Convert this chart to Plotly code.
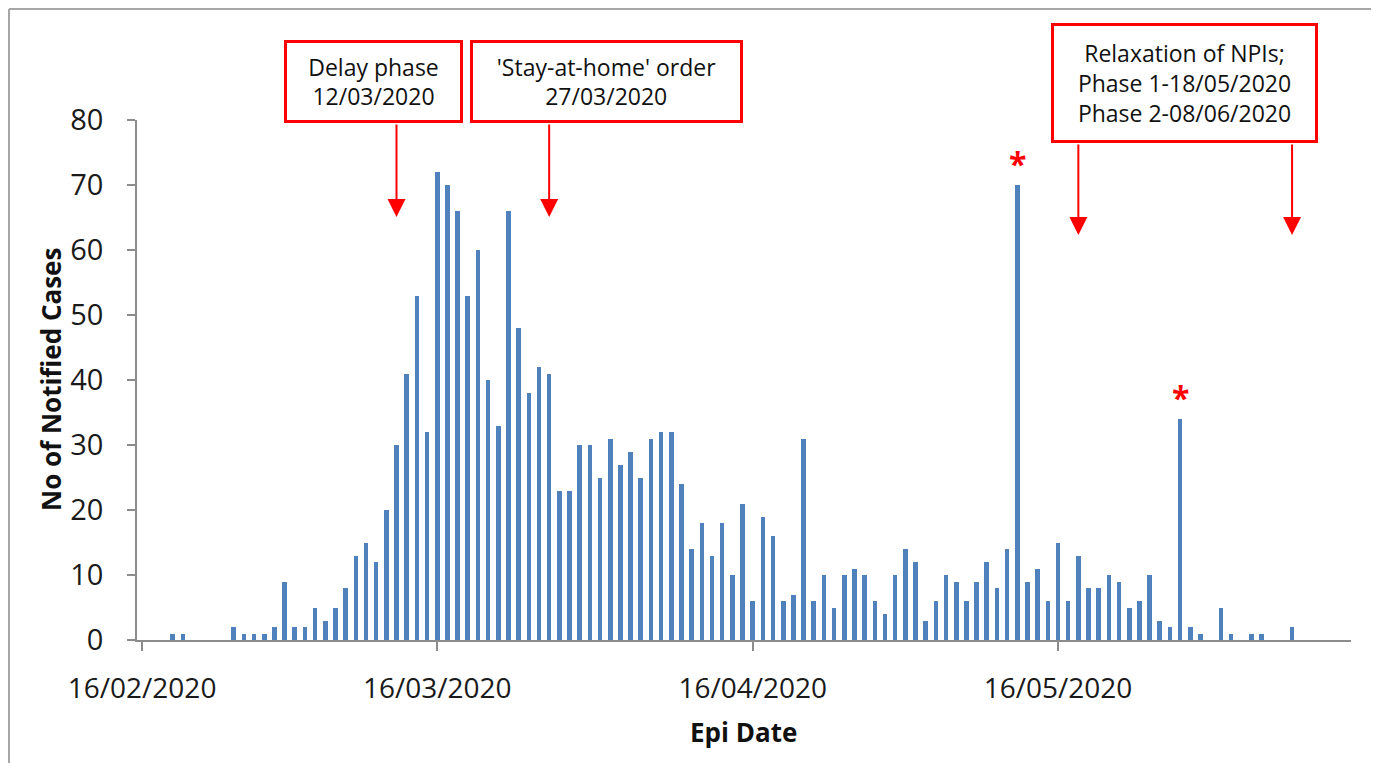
import pandas as pd
import plotly.graph_objects as go

# ---------------- data ----------------
start_date = "2020-02-19"
cases = [1, 1, 0, 0, 0, 0, 2, 1, 1, 1, 2, 9, 2, 2, 5, 3, 5, 8, 13, 15,
         12, 20, 30, 41, 53, 32, 72, 70, 66, 53, 60, 40, 33, 66, 48, 38, 42, 41, 23, 23,
         30, 30, 25, 31, 27, 29, 25, 31, 32, 32, 24, 14, 18, 13, 18, 10, 21, 6, 19, 16,
         6, 7, 31, 6, 10, 5, 10, 11, 10, 6, 4, 10, 14, 12, 3, 6, 10, 9, 6, 9,
         12, 8, 14, 70, 9, 11, 6, 15, 6, 13, 8, 8, 10, 9, 5, 6, 10, 3, 2, 34,
         2, 1, 0, 5, 1, 0, 1, 1, 0, 0, 2]
dates = pd.date_range(start_date, periods=len(cases), freq="D")

tick_dates = ["2020-02-16", "2020-03-16", "2020-04-16", "2020-05-16"]
tick_labels = ["16/02/2020", "16/03/2020", "16/04/2020", "16/05/2020"]

event_dates = ["2020-03-12", "2020-03-27", "2020-05-18", "2020-06-08"]
box_texts = ["Delay phase<br>12/03/2020",
             "'Stay-at-home' order<br>27/03/2020",
             "Relaxation of NPIs;<br>Phase 1-18/05/2020<br>Phase 2-08/06/2020"]
starred_dates = ["2020-05-12", "2020-05-28"]

# ---------------- figure ----------------
OFF = 8  # page body margin
W, H = 1379 - OFF, 763 - OFF
L, R, T, B = 137 - OFF, 28, 120 - OFF, 123
pw, ph = W - L - R, H - T - B


def px_x(x):  # screen px -> paper
    return (x - OFF - L) / pw


def px_y(y):
    return (H - B - (y - OFF)) / ph


FONT = "Open Sans"
BLUE = "#4F81BD"
RED = "#FF0000"
AXIS = "#8c8c8c"

fig = go.Figure()
fig.add_trace(go.Bar(
    x=dates, y=cases,
    marker=dict(color=BLUE, line=dict(width=0)),
    width=0.45 * 86400000,
    hoverinfo="x+y",
))

fig.update_layout(
    width=W, height=H,
    margin=dict(l=L, r=R, t=T, b=B, autoexpand=False),
    paper_bgcolor="white", plot_bgcolor="white",
    showlegend=False,
    bargap=0,
    font=dict(family=FONT, color="#222222"),
)

fig.update_xaxes(
    type="date", automargin=False,
    range=["2020-02-15 12:00", "2020-06-13 19:00"],
    tickmode="array", tickvals=tick_dates, ticktext=tick_labels,
    ticks="outside", ticklen=9, tickwidth=1.5, tickcolor=AXIS,
    showline=True, linecolor=AXIS, linewidth=1.5,
    showgrid=False, zeroline=False,
    tickfont=dict(size=28, family=FONT, color="#1a1a1a"),
    ticklabelstandoff=14,
)
fig.update_yaxes(
    range=[0, 80], dtick=10, tick0=0, automargin=False,
    ticks="outside", ticklen=8, tickwidth=1.5, tickcolor=AXIS,
    showline=True, linecolor=AXIS, linewidth=1.5,
    showgrid=False, zeroline=False,
    tickfont=dict(size=29, family=FONT, color="#1a1a1a"),
    ticklabelstandoff=18,
)

annotations = []
# axis titles
annotations.append(dict(
    text="<b>No of Notified Cases</b>", xref="paper", yref="paper",
    x=px_x(51), y=px_y(380), textangle=-90, showarrow=False,
    font=dict(size=26, family=FONT, color="#111111"),
    xanchor="center", yanchor="middle"))
annotations.append(dict(
    text="<b>Epi Date</b>", xref="paper", yref="paper",
    x=px_x(743), y=px_y(732), showarrow=False,
    font=dict(size=26, family=FONT, color="#111111"),
    xanchor="center", yanchor="middle"))

# text boxes
boxes = [  # (center x px, top y px, inner width, inner height)
    (373.5, 40, 173, 77),
    (606.5, 40, 267, 77),
    (1184.5, 23, 261, 114),
]
for (cx, top, bw, bh), txt in zip(boxes, box_texts):
    annotations.append(dict(
        text=txt, xref="paper", yref="paper",
        x=px_x(cx), y=px_y(top), xanchor="center", yanchor="top",
        width=bw, height=bh, align="center", valign="middle",
        showarrow=False, bordercolor=RED, borderwidth=3, borderpad=0,
        bgcolor="white",
        font=dict(size=23, family=FONT, color="#111111")))

# arrows
arrow_specs = [(217, 123), (217, 123), (235, 143), (235, 143)]  # tip y px, tail y px
for d, (tip, tail) in zip(event_dates, arrow_specs):
    annotations.append(dict(
        x=d, y=(640 - tip) / 6.5, xref="x", yref="y",
        ax=0, ay=-(tip - tail), text="", showarrow=True,
        arrowhead=2, arrowsize=1.8, arrowwidth=2, arrowcolor=RED,
        standoff=0))

# asterisks
case_by_date = dict(zip(dates.strftime("%Y-%m-%d"), cases))
for d in starred_dates:
    annotations.append(dict(
        x=d, y=case_by_date[d], xref="x", yref="y", text="<b>*</b>",
        showarrow=False, yanchor="bottom", yshift=-2,
        font=dict(size=32, family=FONT, color=RED)))

fig.update_layout(annotations=annotations)

# outer frame (left, top, right edges)
FRAME = dict(color="#a6a6a6", width=2)
fx0, fx1, fy_top, fy_bot = px_x(9), px_x(1372), px_y(9), px_y(763)
for x0, y0, x1, y1 in [(fx0, fy_bot, fx0, fy_top),
                       (fx0, fy_top, fx1, fy_top),
                       (fx1, fy_top, fx1, fy_bot)]:
    fig.add_shape(type="line", xref="paper", yref="paper",
                  x0=x0, y0=y0, x1=x1, y1=y1, line=FRAME, layer="below")

fig.write_html("out.html")
